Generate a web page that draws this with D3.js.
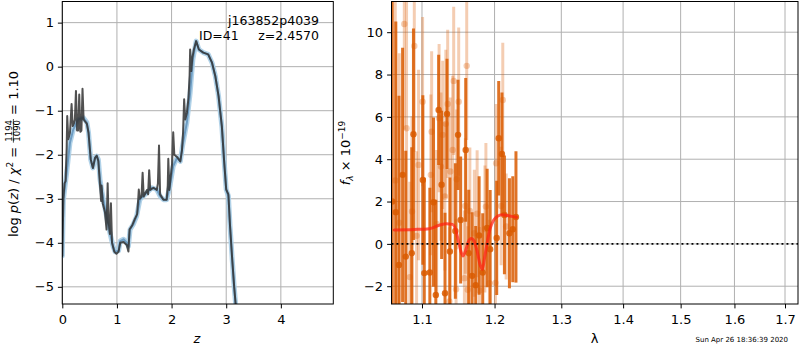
<!DOCTYPE html>
<html>
<head>
<meta charset="utf-8">
<script src="https://cdn.jsdelivr.net/npm/d3@7/dist/d3.min.js"></script>
<style>
    body { margin: 0; background: #fff; }
    svg { display: block; }
    text { font-family: "DejaVu Sans", sans-serif; fill: #000; }
</style>
</head>
<body>
<svg id="chart" width="800" height="350"></svg>
<script>
// ---- left panel: log p(z) ----
const zRaw = [0.00, 0.02, 0.04, 0.06, 0.08, 0.09, 0.11, 0.14, 0.17, 0.19, 0.21, 0.23, 0.25, 0.27, 0.29, 0.31, 0.33, 0.35, 0.37, 0.39,
    0.45, 0.48, 0.52, 0.56, 0.60, 0.63, 0.66, 0.69, 0.71, 0.72, 0.74, 0.78, 0.81, 0.83, 0.85, 0.87, 0.89, 0.91, 0.95, 0.99,
    1.03, 1.06, 1.12, 1.18, 1.21, 1.23, 1.28, 1.33, 1.37, 1.39, 1.40, 1.42, 1.45, 1.47, 1.49, 1.55, 1.57, 1.59, 1.61, 1.67,
    1.73, 1.75, 1.77, 1.79, 1.85, 1.91, 1.93, 1.94, 1.96, 1.98, 2.01, 2.03, 2.05, 2.10, 2.16, 2.19, 2.21, 2.23, 2.25, 2.28,
    2.31, 2.33, 2.34, 2.36, 2.38, 2.41, 2.45, 2.50, 2.58, 2.67, 2.74, 2.80, 2.86, 2.92, 2.96, 3.00, 3.04, 3.07, 3.11, 3.145, 3.18];
const logpRaw = [-4.30, -3.00, -2.65, -2.60, -1.85, -1.12, -1.65, -1.50, -0.85, -1.35, -1.30, -1.20, -0.55, -1.45, -1.45, -0.63, -1.48, -1.45, -0.50, -1.20,
    -1.30, -1.50, -2.10, -2.30, -2.07, -2.02, -2.15, -2.70, -3.05, -2.70, -3.10, -3.30, -3.70, -2.65, -3.55, -3.80, -3.10, -4.00, -4.20, -4.25,
    -4.20, -4.00, -3.98, -4.05, -4.20, -3.70, -3.60, -3.45, -3.35, -3.00, -2.79, -3.00, -2.95, -2.41, -2.95, -2.80, -2.90, -2.35, -2.80, -2.75,
    -2.80, -2.65, -1.79, -2.90, -3.02, -3.02, -2.70, -2.09, -2.80, -2.55, -2.20, -1.49, -2.00, -2.05, -2.15, -1.90, -1.50, -0.74, -1.20, -1.05,
    -0.70, -0.20, 0.39, -0.10, 0.20, 0.40, 0.58, 0.39, 0.32, 0.28, 0.09, -0.21, -0.67, -1.35, -2.11, -2.79, -2.90, -3.62, -4.38, -4.99, -5.50];

const zSmooth = [0.00, 0.02, 0.08, 0.14, 0.20, 0.29, 0.385, 0.45, 0.48, 0.52, 0.56, 0.60, 0.63, 0.66, 0.69, 0.75, 0.81, 0.87, 0.93, 0.965,
    1.03, 1.06, 1.12, 1.18, 1.21, 1.24, 1.30, 1.36, 1.42, 1.48, 1.55, 1.64, 1.73, 1.79, 1.85, 1.91, 1.97, 2.03, 2.10, 2.16,
    2.20, 2.28, 2.34, 2.39, 2.45, 2.50, 2.58, 2.67, 2.74, 2.80, 2.86, 2.92, 2.96, 3.00, 3.04, 3.07, 3.11, 3.145, 3.18];
const logpSmooth = [-4.30, -3.02, -2.41, -1.73, -1.43, -1.20, -1.16, -1.27, -1.50, -2.11, -2.30, -2.07, -2.03, -2.11, -2.56, -3.02, -3.40, -3.77, -4.08, -4.20,
    -4.18, -3.96, -3.92, -4.00, -4.08, -3.70, -3.58, -3.40, -3.02, -2.94, -2.86, -2.75, -2.79, -2.94, -3.02, -3.02, -2.71, -2.26, -2.07, -2.15,
    -1.80, -1.27, -0.59, 0.17, 0.58, 0.39, 0.32, 0.28, 0.09, -0.21, -0.67, -1.35, -2.11, -2.79, -2.94, -3.62, -4.38, -4.99, -5.50];

const leftXTicks = [0, 1, 2, 3, 4];
const leftYTicks = [-5, -4, -3, -2, -1, 0, 1];
const leftYTickLabels = ["\u22125", "\u22124", "\u22123", "\u22122", "\u22121", "0", "1"];

// ---- right panel: spectrum ----
const darkWave = [1.0614, 1.0660, 1.0700, 1.0747, 1.0788, 1.0866, 1.0888, 1.1011, 1.1030, 1.1104, 1.1153, 1.1184, 1.1222, 1.1262, 1.1308, 1.1335,
    1.1374, 1.1449, 1.1486, 1.1522, 1.1592, 1.1634, 1.1681, 1.1732, 1.1780, 1.1831, 1.1894, 1.1937, 1.2031, 1.2060, 1.2107, 1.2143,
    1.2216, 1.2265, 1.2312];
const darkFlux = [2.0, 1.5, -1.0, 3.26, -0.60, -0.44, 5.18, 3.02, -1.38, -1.35, 1.97, -2.41, 6.33, 2.79, -2.33, 6.14,
    -0.36, 0.61, 5.15, 1.13, 4.44, -0.44, -1.51, -1.95, 0.40, -1.35, 0.75, -0.25, 0.28, 4.99, 4.25, 1.37,
    0.50, 0.69, 1.27];
const darkErr = [12.0, 9.0, 8.0, 6.0, 5.0, 5.0, 5.0, 4.0, 4.5, 4.0, 4.0, 4.5, 2.6, 3.5, 3.8, 2.6,
    3.5, 3.2, 2.6, 3.0, 3.4, 3.0, 3.0, 2.8, 2.8, 2.8, 2.8, 2.8, 2.7, 2.7, 2.9, 2.8,
    2.6, 2.5, 3.1];

const lightWave = [1.0653, 1.0704, 1.0769, 1.0798, 1.0840, 1.0869, 1.0899, 1.0929, 1.0955, 1.1008, 1.1117, 1.1128, 1.1195, 1.1228, 1.1254, 1.1276,
    1.1306, 1.1319, 1.1344, 1.1367, 1.1380, 1.1412, 1.1426, 1.1459, 1.1467, 1.1495, 1.1574, 1.1587, 1.1606, 1.1620, 1.1650, 1.1713,
    1.1752, 1.1784, 1.1862, 1.1876, 1.1926, 1.2013, 1.2023, 1.2095, 1.2119, 1.2168];
const lightFlux = [3.0, 1.0, 10.39, 5.46, -1.57, 1.53, 9.35, 0.38, 3.73, 6.72, 3.26, 5.30, 0.94, 5.94, 3.65, 5.15,
    2.24, 5.67, 6.61, -2.72, 3.42, 4.44, 7.70, -2.14, 3.05, 6.72, -1.62, 1.79, 8.41, -2.17, 1.55, 0.50,
    1.42, -2.20, 0.70, 1.76, -1.86, -1.84, 3.81, 1.79, 6.80, 0.82];
const lightErr = [9.0, 8.0, 5.0, 6.0, 4.5, 4.5, 5.0, 4.0, 4.5, 4.0, 3.8, 3.8, 3.5, 3.5, 3.5, 3.5,
    3.5, 3.5, 3.5, 3.5, 3.5, 3.5, 3.5, 3.3, 3.3, 3.5, 3.2, 3.2, 3.5, 3.0, 3.0, 3.0,
    3.0, 3.0, 3.0, 3.0, 3.0, 2.8, 2.8, 2.8, 2.7, 2.5];

const modelWave = [1.0640, 1.0899, 1.1097, 1.1231, 1.1326, 1.1408, 1.1456, 1.1490, 1.1525, 1.1553, 1.1587, 1.1629, 1.1671, 1.1707,
    1.1749, 1.1791, 1.1827, 1.1855, 1.1891, 1.1934, 1.1984, 1.2042, 1.2114, 1.2216, 1.2319];
const modelFlux = [0.66, 0.68, 0.72, 0.88, 0.95, 0.92, 0.65, 0.15, -0.35, -0.57, -0.35, 0.10, 0.25, 0.15,
    -0.30, -0.95, -1.20, -0.70, 0.00, 0.70, 1.10, 1.30, 1.38, 1.32, 1.26];

const rightXTicks = [1.1, 1.2, 1.3, 1.4, 1.5, 1.6, 1.7];
const rightYTicks = [-2, 0, 2, 4, 6, 8, 10];
const rightYTickLabels = ["\u22122", "0", "2", "4", "6", "8", "10"];

const stampText = "Sun Apr 26 18:36:39 2020";

// ---- layout ----
const panelTop = 1.5, panelBottom = 304;
const left = { x0: 62.3, x1: 333.3 };
const right = { x0: 391.5, x1: 798 };
const fontSize = "13px";
const gridColor = "#b0b0b0";
const specColor = "#d95a00";

const svg = d3.select("#chart");
const defs = svg.append("defs");

const xL = d3.scaleLinear([0, 4.96], [left.x0, left.x1]);
const yL = d3.scaleLinear([-5.39, 1.48], [panelBottom, panelTop]);
const xR = d3.scaleLog([1.0605, 1.7267], [right.x0, right.x1]);
const yR = d3.scaleLinear([-2.84, 11.45], [panelBottom, panelTop]);

function clip(id, p) {
    defs.append("clipPath").attr("id", id)
        .append("rect")
        .attr("x", p.x0).attr("y", panelTop)
        .attr("width", p.x1 - p.x0).attr("height", panelBottom - panelTop);
}
clip("clipL", left);
clip("clipR", right);

function grid(xs, ys, xTicks, yTicks, p) {
    const g = svg.append("g")
        .attr("stroke", gridColor)
        .attr("stroke-width", 1);
    g.selectAll("line.v").data(xTicks).join("line")
        .attr("x1", d => xs(d)).attr("x2", d => xs(d))
        .attr("y1", panelTop).attr("y2", panelBottom);
    g.selectAll("line.h").data(yTicks).join("line")
        .attr("x1", p.x0).attr("x2", p.x1)
        .attr("y1", d => ys(d)).attr("y2", d => ys(d));
}
grid(xL, yL, leftXTicks, leftYTicks, left);
grid(xR, yR, rightXTicks, rightYTicks, right);

// left curves
const lineL = d3.line().x(d => xL(d[0])).y(d => yL(d[1]));
const smoothPts = d3.zip(zSmooth, logpSmooth);
const rawPts = d3.zip(zRaw, logpRaw);
const curves = svg.append("g").attr("clip-path", "url(#clipL)")
    .attr("fill", "none")
    .attr("stroke-linejoin", "round")
    .attr("stroke-linecap", "round");
curves.append("path").attr("d", lineL(smoothPts))
    .attr("stroke", "#a8cde6").attr("stroke-width", 5).attr("stroke-opacity", 0.9);
curves.append("path").attr("d", lineL(smoothPts))
    .attr("stroke", "#6d9cc2").attr("stroke-width", 2);
curves.append("path").attr("d", lineL(rawPts))
    .attr("stroke", "#333").attr("stroke-width", 2).attr("stroke-opacity", 0.85);

// right spectrum
const spec = svg.append("g").attr("clip-path", "url(#clipR)");

function drawPoints(wave, flux, err, opacity) {
    const pts = d3.range(wave.length).map(i => ({ w: wave[i], f: flux[i], e: err[i] }));
    const g = spec.append("g");
    g.selectAll("line").data(pts).join("line")
        .attr("x1", d => xR(d.w)).attr("x2", d => xR(d.w))
        .attr("y1", d => yR(d.f - d.e)).attr("y2", d => yR(d.f + d.e))
        .attr("stroke", specColor).attr("stroke-width", 3)
        .attr("stroke-opacity", opacity);
    g.selectAll("circle").data(pts).join("circle")
        .attr("cx", d => xR(d.w)).attr("cy", d => yR(d.f))
        .attr("r", 3.2)
        .attr("fill", specColor).attr("fill-opacity", opacity);
}
drawPoints(lightWave, lightFlux, lightErr, 0.3);
drawPoints(darkWave, darkFlux, darkErr, 0.85);

spec.append("path")
    .attr("d", d3.line().curve(d3.curveMonotoneX)
        .x(d => xR(d[0])).y(d => yR(d[1]))(d3.zip(modelWave, modelFlux)))
    .attr("fill", "none")
    .attr("stroke", "#ff2010").attr("stroke-opacity", 0.72)
    .attr("stroke-width", 3).attr("stroke-linecap", "round");

spec.append("line")
    .attr("x1", right.x0).attr("x2", right.x1)
    .attr("y1", yR(0)).attr("y2", yR(0))
    .attr("stroke", "#000").attr("stroke-width", 1.9)
    .attr("stroke-dasharray", "1.9,3.1");

// axes
function axes(xs, ys, xTicks, xFmt, yTicks, yLabels, p) {
    svg.append("g")
        .attr("transform", `translate(0,${panelBottom})`)
        .call(d3.axisBottom(xs).tickValues(xTicks).tickFormat(xFmt)
            .tickSize(4.4).tickPadding(6.8))
        .call(g => g.select(".domain").remove())
        .call(g => g.selectAll("text").style("font-size", fontSize).attr("font-family", "DejaVu Sans"));
    svg.append("g")
        .attr("transform", `translate(${p.x0},0)`)
        .call(d3.axisLeft(ys).tickValues(yTicks).tickFormat((d, i) => yLabels[i])
            .tickSize(4.4).tickPadding(4))
        .call(g => g.select(".domain").remove())
        .call(g => g.selectAll("text").style("font-size", fontSize).attr("font-family", "DejaVu Sans"));
    svg.append("rect")
        .attr("x", p.x0).attr("y", panelTop)
        .attr("width", p.x1 - p.x0).attr("height", panelBottom - panelTop)
        .attr("fill", "none").attr("stroke", "#000").attr("stroke-width", 1);
}
axes(xL, yL, leftXTicks, d3.format("d"), leftYTicks, leftYTickLabels, left);
axes(xR, yR, rightXTicks, d3.format(".1f"), rightYTicks, rightYTickLabels, right);

// annotation
svg.append("text").attr("x", 319).attr("y", 24.5).attr("text-anchor", "end")
    .style("font-size", "12.5px").text("j163852p4039");
svg.append("text").attr("x", 199).attr("y", 39.5)
    .style("font-size", "12.5px").text("ID=41");
svg.append("text").attr("x", 319).attr("y", 39.5).attr("text-anchor", "end")
    .style("font-size", "12.5px").text("z=2.4570");

// x labels
svg.append("text").attr("x", 197).attr("y", 342.5).attr("text-anchor", "middle")
    .style("font-size", fontSize).style("font-style", "italic").text("z");
svg.append("text").attr("x", 594.5).attr("y", 342.5).attr("text-anchor", "middle")
    .style("font-size", fontSize).text("\u03bb");

// left y label: log p(z) / chi^2 = 1194/1090 = 1.10
const yl = svg.append("g").attr("transform", "translate(18,154) rotate(-90)");
const part1 = yl.append("text").style("font-size", fontSize).attr("xml:space", "preserve");
part1.append("tspan").text("log ");
part1.append("tspan").style("font-style", "italic").text("p");
part1.append("tspan").text("(");
part1.append("tspan").style("font-style", "italic").text("z");
part1.append("tspan").text(") / ");
part1.append("tspan").style("font-style", "italic").text("\u03c7");
part1.append("tspan").attr("dy", -5).style("font-size", "9px").text("2");
part1.append("tspan").attr("dy", 5).text(" = ");
const num = yl.append("text").style("font-size", "8.5px").attr("text-anchor", "middle").text("1194");
const den = yl.append("text").style("font-size", "8.5px").attr("text-anchor", "middle").text("1090");
const part3 = yl.append("text").style("font-size", fontSize).attr("xml:space", "preserve").text(" = 1.10");
const w1 = part1.node().getComputedTextLength();
const wf = Math.max(num.node().getComputedTextLength(), den.node().getComputedTextLength()) + 2;
const w3 = part3.node().getComputedTextLength();
const x0 = -(w1 + wf + w3) / 2;
part1.attr("x", x0);
num.attr("x", x0 + w1 + wf / 2).attr("y", -6.2);
den.attr("x", x0 + w1 + wf / 2).attr("y", 2.2);
yl.append("line").attr("x1", x0 + w1).attr("x2", x0 + w1 + wf)
    .attr("y1", -4.6).attr("y2", -4.6).attr("stroke", "#000").attr("stroke-width", 0.7);
part3.attr("x", x0 + w1 + wf);

// right y label: f_lambda x 10^-19
const yr = svg.append("g").attr("transform", "translate(350,153) rotate(-90)");
const ry = yr.append("text").attr("text-anchor", "middle").style("font-size", fontSize).attr("xml:space", "preserve");
ry.append("tspan").style("font-style", "italic").text("f");
ry.append("tspan").attr("dy", 3).style("font-size", "9px").style("font-style", "italic").text("\u03bb");
ry.append("tspan").attr("dy", -3).text(" \u00d7 10");
ry.append("tspan").attr("dy", -5).style("font-size", "9px").text("\u221219");

// timestamp
svg.append("text").attr("x", 788).attr("y", 342).attr("text-anchor", "end")
    .style("font-size", "7px").text(stampText);
</script>
</body>
</html>
